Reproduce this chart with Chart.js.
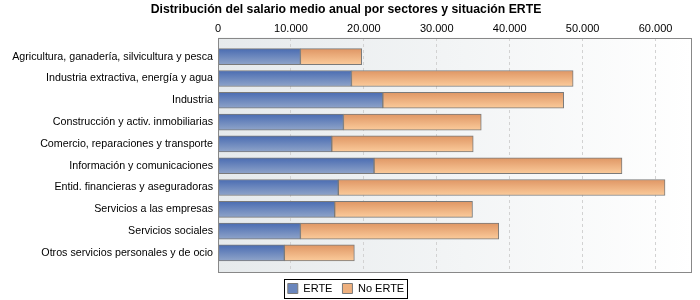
<!DOCTYPE html>
<html>
<head>
<meta charset="utf-8">
<script src="https://cdn.jsdelivr.net/npm/chart.js@4/dist/chart.umd.min.js"></script>
<style>
  html, body { margin: 0; padding: 0; background: #fff; }
  #wrap { width: 700px; height: 300px; }
</style>
</head>
<body>
<div id="wrap"><canvas id="myChart" width="700" height="300"></canvas></div>
<script>
"use strict"

// DATA
const sectores = [
    'Agricultura, ganadería, silvicultura y pesca',
    'Industria extractiva, energía y agua',
    'Industria',
    'Construcción y activ. inmobiliarias',
    'Comercio, reparaciones y transporte',
    'Información y comunicaciones',
    'Entid. financieras y aseguradoras',
    'Servicios a las empresas',
    'Servicios sociales',
    'Otros servicios personales y de ocio'
];
// salario medio con ERTE
const erte = [11300, 18300, 22600, 17200, 15600, 21400, 16500, 16000, 11300, 9100];
// tramo adicional hasta el salario sin ERTE (barras apiladas)
const noErte = [8400, 30400, 24800, 18900, 19400, 34000, 44800, 18900, 27200, 9600];

const xTicks = [0, 10000, 20000, 30000, 40000, 50000, 60000];

// miles con punto
function fmt(v) {
    return String(v).replace(/\B(?=(\d{3})+(?!\d))/g, '.');
}

// degradado vertical de cada barra
function barGradient(top, bottom) {
    return (ctx) => {
        const chart = ctx.chart;
        if (!chart.chartArea || ctx.type !== 'data') return top;
        const y = chart.scales.y.getPixelForValue(ctx.dataIndex);
        const g = chart.ctx.createLinearGradient(0, y - 8, 0, y + 8);
        g.addColorStop(0, top);
        g.addColorStop(1, bottom);
        return g;
    };
}

// fondo y marco del area de dibujo
const plotFrame = {
    id: 'plotFrame',
    beforeDraw(chart) {
        const { ctx, chartArea: a } = chart;
        const g = ctx.createLinearGradient(a.left, 0, a.right, 0);
        g.addColorStop(0, '#e6eaec');
        g.addColorStop(1, '#ffffff');
        ctx.save();
        ctx.fillStyle = g;
        ctx.fillRect(a.left, a.top, a.right - a.left, a.bottom - a.top);
        ctx.restore();
    },
    afterDraw(chart) {
        const { ctx, chartArea: a } = chart;
        ctx.save();
        ctx.strokeStyle = '#888888';
        ctx.lineWidth = 1;
        ctx.strokeRect(Math.round(a.left) + 0.5, Math.round(a.top) + 0.5,
            Math.round(a.right - a.left) - 1, Math.round(a.bottom - a.top) - 1);
        // caja de la leyenda
        const hb = chart.legend.legendHitBoxes;
        if (hb && hb.length) {
            const first = hb[0], last = hb[hb.length - 1];
            const x0 = Math.round(first.left - 4) + 0.5;
            const x1 = Math.round(last.left + last.width + 3) + 0.5;
            const yc = first.top + first.height / 2;
            ctx.strokeStyle = '#000000';
            ctx.strokeRect(x0, Math.round(yc - 10) + 0.5, x1 - x0, 19);
        }
        ctx.restore();
    }
};

const data = {
    labels: sectores,
    datasets: [{
        label: 'ERTE',
        data: erte.map((v, i) => ({ x: v, y: i })),
        backgroundColor: barGradient('#4a6cb2', '#8fa4c9'),
        borderColor: '#7a7a7a',
        borderWidth: 1,
        borderSkipped: false,
        barThickness: 16
    }, {
        label: 'No ERTE',
        data: noErte.map((v, i) => ({ x: v, y: i })),
        backgroundColor: barGradient('#df9664', '#fbcb9b'),
        borderColor: '#7a7a7a',
        borderWidth: 1,
        borderSkipped: false,
        barThickness: 16
    }]
};

const config = {
    type: 'bar',
    data: data,
    options: {
        indexAxis: 'y',
        responsive: false,
        animation: false,
        layout: { padding: { left: 0, right: 8, top: 0, bottom: -4 } },
        scales: {
            x: {
                position: 'top',
                stacked: true,
                min: 0,
                max: 65000,
                afterBuildTicks: (scale) => { scale.ticks = xTicks.map(v => ({ value: v })); },
                ticks: {
                    color: '#000',
                    font: { family: 'Liberation Sans', size: 11 },
                    padding: 2,
                    callback: (v) => fmt(v)
                },
                grid: { color: '#d2d2d2', drawTicks: false },
                border: { display: false, dash: [3, 3] },
                afterFit: (scale) => { scale.height = 19; }
            },
            y: {
                type: 'linear',
                reverse: true,
                stacked: true,
                offset: false,
                min: -0.87,
                max: 9.92,
                afterBuildTicks: (scale) => { scale.ticks = sectores.map((s, i) => ({ value: i })); },
                ticks: {
                    color: '#000',
                    font: { family: 'Liberation Sans', size: 10.7 },
                    padding: 5,
                    callback: (v) => sectores[v]
                },
                grid: { display: false, drawTicks: false },
                border: { display: false },
                afterFit: (scale) => { scale.width = 218; }
            }
        },
        plugins: {
            title: {
                display: true,
                text: 'Distribución del salario medio anual por sectores y situación ERTE',
                color: '#000',
                font: { family: 'Liberation Sans', size: 12.25, weight: 'bold' },
                padding: { top: 2, bottom: 2 }
            },
            legend: {
                position: 'bottom',
                labels: {
                    color: '#000',
                    font: { family: 'Liberation Sans', size: 11 },
                    boxWidth: 10,
                    boxHeight: 10,
                    padding: 10,
                    generateLabels: (chart) => chart.data.datasets.map((ds, i) => ({
                        text: ds.label,
                        fillStyle: i === 0 ? '#6a86bd' : '#eeb07e',
                        strokeStyle: '#7a7a7a',
                        lineWidth: 1,
                        datasetIndex: i
                    }))
                }
            },
            tooltip: { enabled: false }
        }
    },
    plugins: [plotFrame]
};

const myChart = new Chart(document.getElementById('myChart'), config);
</script>
</body>
</html>
